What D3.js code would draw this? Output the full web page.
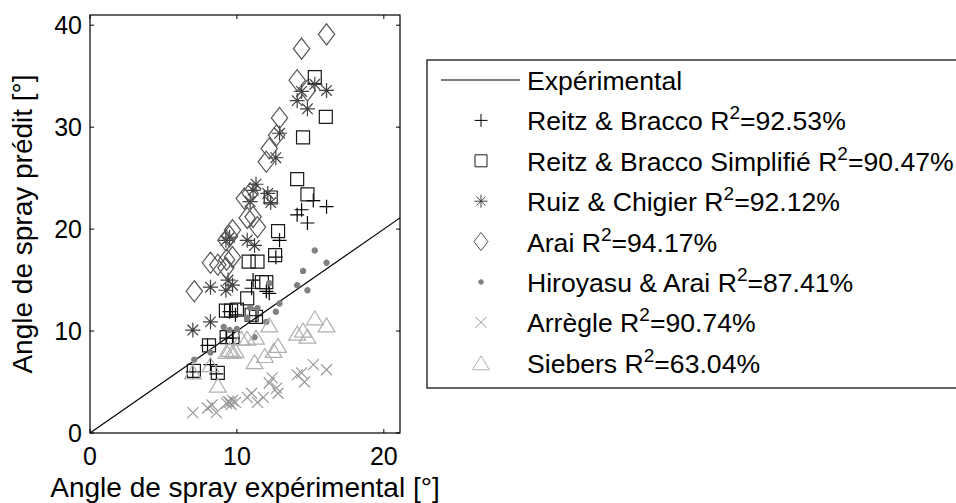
<!DOCTYPE html>
<html><head><meta charset="utf-8">
<script src="https://cdn.jsdelivr.net/npm/d3@7"></script>
<style>body{margin:0;background:#fff}svg{display:block}text{font-family:"Liberation Sans",Arial,sans-serif;fill:#000}</style>
</head><body>
<svg id="c" width="956" height="503"></svg>
<script>
const xTicks=[0,10,20];
const yTicks=[0,10,20,30,40];
const xLabel="Angle de spray expérimental [°]";
const yLabel="Angle de spray prédit [°]";
const legendNames=["Expérimental","Reitz & Bracco","Reitz & Bracco Simplifié","Ruiz & Chigier","Arai","Hiroyasu & Arai","Arrègle","Siebers"];
const legendR2=[null,"92.53%","90.47%","92.12%","94.17%","87.41%","90.74%","63.04%"];
const lineX=[0,21.1];
const reitzX=[15.2,16.1,14.1,14.4,14.8,12.9,12.65,11.1,12.0,12.2,11.0,9.5,9.9,9.3,9.7,8.0,8.2,7.0,8.6,11.3];
const reitzY=[22.8,22.2,21.4,21.9,20.6,18.9,17.25,15.0,13.9,13.7,14.2,11.9,11.6,9.3,9.3,8.6,6.7,6.0,5.8,11.5];
const simpX=[7.07,8.7,8.1,9.3,9.7,9.25,9.6,10.0,11.0,11.3,10.7,11.7,12.0,10.8,11.4,12.6,12.8,12.3,14.1,14.8,14.5,16.05,15.3];
const simpY=[6.1,5.9,8.6,9.4,9.4,12.0,12.0,12.1,11.6,11.4,13.2,14.8,14.8,16.8,16.8,17.45,19.8,23.1,24.9,23.4,29.0,31.0,34.9];
const ruizX=[15.3,16.1,14.4,14.1,14.8,12.9,12.65,11.3,11.1,12.1,10.9,12.3,9.5,10.7,11.2,9.25,9.4,9.7,8.2,9.25,7.0,8.2];
const ruizY=[34.2,33.6,33.5,32.6,31.8,29.4,27.0,24.4,23.8,23.5,22.7,22.6,19.2,18.9,18.4,18.9,15.0,14.5,14.3,14.0,10.1,10.9];
const araiX=[16.1,14.4,14.1,14.8,12.9,12.7,12.2,12.0,10.9,10.5,11.1,10.7,11.4,9.7,9.5,9.25,9.7,9.3,8.7,8.2,9.25,7.1];
const araiY=[39.1,37.7,34.6,33.6,30.9,29.2,27.9,26.6,23.5,23.0,21.2,21.1,20.2,19.9,19.3,18.9,17.25,17.0,16.5,16.7,16.2,13.9];
const hiroX=[15.3,16.1,14.5,14.1,14.8,12.9,12.65,12.0,12.2,10.9,11.4,10.7,11.2,10.0,9.5,9.1,7.1,8.2];
const hiroY=[17.9,16.7,15.9,14.5,14.0,12.7,11.9,10.9,14.7,12.25,12.25,11.3,9.4,10.2,10.1,10.4,7.2,7.9];
const arrX=[7.0,8.0,8.3,8.6,9.3,9.5,9.7,9.9,10.7,11.0,11.4,11.8,12.2,12.7,12.8,14.1,14.6,14.4,15.2,16.1,12.4,9.6,9.4];
const arrY=[2.0,2.45,2.75,2.0,2.9,3.0,3.2,3.0,3.5,3.9,3.0,3.5,4.9,4.4,3.9,5.7,5.0,5.9,6.7,6.2,5.4,2.8,3.1];
const siebX=[7.0,8.2,8.7,9.3,9.5,9.7,9.9,10.3,10.7,11.3,11.2,11.9,12.2,12.8,12.5,14.1,14.5,14.8,15.3,16.1];
const siebY=[6.0,6.7,4.7,8.0,8.2,8.0,8.1,9.3,9.3,9.4,7.0,7.6,10.6,8.6,8.1,9.8,10.1,9.5,11.3,10.6];

const svg=d3.select("#c");
const L=90,R=400,T=15,B=433;
const x=d3.scaleLinear().domain([0,21.1]).range([L,R]);
const y=d3.scaleLinear().domain([0,41]).range([B,T]);

const shapes={
 plus:s=>`M${-s/2},0H${s/2}M0,${-s/2}V${s/2}`,
 square:s=>`M${-s/2},${-s/2}h${s}v${s}h${-s}Z`,
 star:s=>{const a=s/2,b=a*0.707;return `M${-a},0H${a}M0,${-a}V${a}M${-b},${-b}L${b},${b}M${-b},${b}L${b},${-b}`;},
 diamond:s=>`M0,${-s*0.48}L${s*0.37},0L0,${s*0.48}L${-s*0.37},0Z`,
 dot:s=>`M${-s},0A${s},${s} 0 1,0 ${s},0A${s},${s} 0 1,0 ${-s},0Z`,
 cross:s=>{const a=s/2;return `M${-a},${-a}L${a},${a}M${-a},${a}L${a},${-a}`;},
 tri:s=>{const w=s*0.6,h=s*0.5;return `M0,${-h}L${w},${h}L${-w},${h}Z`;}
};
const series=[
 {xs:reitzX,ys:reitzY,shape:"plus",size:14,lsize:13,color:"#000",fill:"none"},
 {xs:simpX,ys:simpY,shape:"square",size:13,lsize:12,color:"#1a1a1a",fill:"none"},
 {xs:ruizX,ys:ruizY,shape:"star",size:15,lsize:13,color:"#404040",fill:"none"},
 {xs:araiX,ys:araiY,shape:"diamond",size:22,lsize:19,color:"#555",fill:"none"},
 {xs:hiroX,ys:hiroY,shape:"dot",size:2.6,lsize:2.3,color:"#808080",fill:"#808080"},
 {xs:arrX,ys:arrY,shape:"cross",size:11,lsize:11,color:"#999",fill:"none"},
 {xs:siebX,ys:siebY,shape:"tri",size:14,lsize:14,color:"#b0b0b0",fill:"none"}
];

svg.append("rect").attr("x",L).attr("y",T).attr("width",R-L).attr("height",B-T).attr("fill","none").attr("stroke","#000").attr("stroke-width",1.2);
const tl=4;
xTicks.forEach(t=>{svg.append("path").attr("d",`M${x(t)},${B}v${-tl}M${x(t)},${T}v${tl}`).attr("stroke","#000");
 svg.append("text").attr("x",x(t)).attr("y",464.5).attr("text-anchor","middle").attr("font-size",25).text(t);});
yTicks.forEach(t=>{svg.append("path").attr("d",`M${L},${y(t)}h${tl}M${R},${y(t)}h${-tl}`).attr("stroke","#000");
 svg.append("text").attr("x",82).attr("y",y(t)+9).attr("text-anchor","end").attr("font-size",25).text(t);});
svg.append("text").attr("x",245).attr("y",497).attr("text-anchor","middle").attr("font-size",28).text(xLabel);
svg.append("text").attr("transform","translate(32,224) rotate(-90)").attr("text-anchor","middle").attr("font-size",28).text(yLabel);

svg.append("clipPath").attr("id","pc").append("rect").attr("x",L).attr("y",T).attr("width",R-L).attr("height",B-T);
const g=svg.append("g").attr("clip-path","url(#pc)");
g.append("line").attr("x1",x(lineX[0])).attr("y1",y(lineX[0])).attr("x2",x(lineX[1])).attr("y2",y(lineX[1])).attr("stroke","#000").attr("stroke-width",1.2);
series.forEach(s=>{
 g.selectAll(null).data(s.xs.map((v,i)=>[v,s.ys[i]])).enter().append("path")
  .attr("transform",d=>`translate(${x(d[0])},${y(d[1])})`)
  .attr("d",shapes[s.shape](s.size)).attr("fill",s.fill).attr("stroke",s.color).attr("stroke-width",1.2);
});

// legend
svg.append("rect").attr("x",427).attr("y",60).attr("width",560).attr("height",328).attr("fill","#fff").attr("stroke","#000").attr("stroke-width",1.2);
const ly0=80,ldy=40.4,mx=481,tx=527,fs=26.6;
svg.append("line").attr("x1",441).attr("x2",520).attr("y1",ly0).attr("y2",ly0).attr("stroke","#000").attr("stroke-width",1.2);
legendNames.forEach((n,i)=>{
 const yy=ly0+i*ldy;
 const t=svg.append("text").attr("x",tx).attr("y",yy+10).attr("font-size",fs);
 if(legendR2[i]===null){t.text(n);}
 else{t.append("tspan").text(n+" R");t.append("tspan").attr("dy",-11).attr("font-size",19).text("2");t.append("tspan").attr("dy",11).text("="+legendR2[i]);}
 if(i>0){const s=series[i-1];
  svg.append("path").attr("transform",`translate(${mx},${yy})`).attr("d",shapes[s.shape](s.lsize)).attr("fill",s.fill).attr("stroke",s.color).attr("stroke-width",1);}
});
</script></body></html>
